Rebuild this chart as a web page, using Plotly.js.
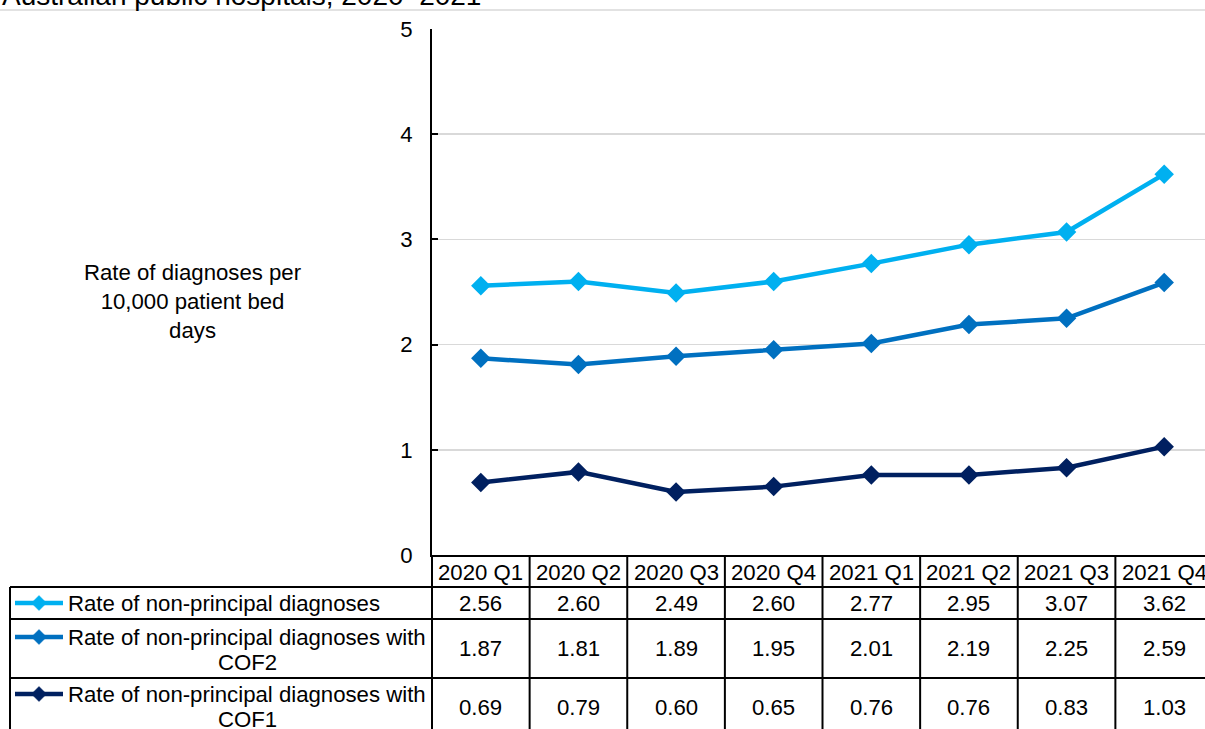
<!DOCTYPE html>
<html>
<head>
<meta charset="utf-8">
<script src="https://cdn.plot.ly/plotly-3.0.1.min.js"></script>
<style>
html,body{margin:0;padding:0;overflow:hidden;background:#fff;}
#chart{width:1223px;height:729px;}
</style>
</head>
<body>
<div id="chart"></div>
<script>
// ---- data ----
var categories = ['2020 Q1','2020 Q2','2020 Q3','2020 Q4','2021 Q1','2021 Q2','2021 Q3','2021 Q4'];
var rateAll  = [2.56, 2.60, 2.49, 2.60, 2.77, 2.95, 3.07, 3.62];
var rateCOF2 = [1.87, 1.81, 1.89, 1.95, 2.01, 2.19, 2.25, 2.59];
var rateCOF1 = [0.69, 0.79, 0.60, 0.65, 0.76, 0.76, 0.83, 1.03];
var seriesNames = ['Rate of non-principal diagnoses',
                   'Rate of non-principal diagnoses with COF2',
                   'Rate of non-principal diagnoses with COF1'];
var yTicks = [0, 1, 2, 3, 4, 5];
var titleText = 'Australian public hospitals, 2020\u20132021';
var yTitle = 'Rate of diagnoses per<br>10,000 patient bed<br>days';

// ---- layout geometry (pixels) ----
var W = 1223, H = 729;
var L = 432, PW = 781, T = 29, PH = 526;
function PX(x){ return (x - L) / PW; }
function PY(y){ return (T + PH - y) / PH; }

var colors = ['#00B0F0', '#0070C0', '#002060'];
var seriesData = [rateAll, rateCOF2, rateCOF1];
var FONT = 'Liberation Sans, Arial, sans-serif';
var FS = 22.2;

var traces = seriesData.map(function(vals, i){
  return {
    type: 'scatter', mode: 'lines+markers',
    x: categories, y: vals, name: seriesNames[i],
    line: {color: colors[i], width: 4.5},
    marker: {symbol: 'diamond', size: 15, color: colors[i]},
    showlegend: false, hoverinfo: 'x+y'
  };
});

var shapes = [];
var annotations = [];
function hline(x0, x1, y, color, w){
  shapes.push({type:'line', xref:'paper', yref:'paper', x0:PX(x0), x1:PX(x1), y0:PY(y), y1:PY(y),
               line:{color:color||'#000', width:w||2}, layer:'above'});
}
function vlineData(xv, y0, y1){
  shapes.push({type:'line', xref:'x', yref:'paper', x0:xv, x1:xv, y0:PY(y0), y1:PY(y1),
               line:{color:'#000', width:2}, layer:'above'});
}
function vlinePx(x, y0, y1){
  shapes.push({type:'line', xref:'paper', yref:'paper', x0:PX(x), x1:PX(x), y0:PY(y0), y1:PY(y1),
               line:{color:'#000', width:2}, layer:'above'});
}

// top grey rule
hline(-10, 1240, 10, '#d9d9d9', 1.5);

// table rows
hline(10, 1240, 587);
hline(10, 1240, 619);
hline(10, 1240, 678);
// axis line continuation + legend column border
vlinePx(L, 555, 740);
vlinePx(10, 587, 740);
// column separators
for (var i = 0; i < categories.length; i++) {
  vlineData(i + 0.5, 555, 740);
}

// header labels
categories.forEach(function(c, i){
  annotations.push({xref:'x', yref:'paper', x:i, y:PY(572), text:c, showarrow:false,
    xanchor:'center', yanchor:'middle', font:{family:FONT, size:FS, color:'#000'}});
});
// values
var valueRowsY = [603, 648, 707];
seriesData.forEach(function(vals, r){
  vals.forEach(function(v, i){
    annotations.push({xref:'x', yref:'paper', x:i, y:PY(valueRowsY[r]), text:v.toFixed(2), showarrow:false,
      xanchor:'center', yanchor:'middle', font:{family:FONT, size:FS, color:'#000'}});
  });
});

// legend keys in table
var keyY = [603, 637, 694];
keyY.forEach(function(ky, r){
  shapes.push({type:'line', xref:'paper', yref:'paper', x0:PX(15), x1:PX(63), y0:PY(ky), y1:PY(ky),
               line:{color:colors[r], width:4.5}, layer:'above'});
  var cx = 39, d = 7.5;
  var path = 'M ' + PX(cx - d) + ' ' + PY(ky) + ' L ' + PX(cx) + ' ' + PY(ky - d) +
             ' L ' + PX(cx + d) + ' ' + PY(ky) + ' L ' + PX(cx) + ' ' + PY(ky + d) + ' Z';
  shapes.push({type:'path', xref:'paper', yref:'paper', path:path,
               fillcolor:colors[r], line:{color:colors[r], width:0.5}, layer:'above'});
});
// legend texts
annotations.push({xref:'paper', yref:'paper', x:PX(66), y:PY(603), text:seriesNames[0], showarrow:false,
  xanchor:'left', yanchor:'middle', font:{family:FONT, size:FS, color:'#000'}});
[[1, 637, 662, 'COF2'], [2, 694, 719, 'COF1']].forEach(function(a){
  var name = seriesNames[a[0]];
  var first = name.replace(' ' + a[3], '');
  annotations.push({xref:'paper', yref:'paper', x:PX(66), y:PY(a[1]), text:first, showarrow:false,
    xanchor:'left', yanchor:'middle', font:{family:FONT, size:FS, color:'#000'}});
  annotations.push({xref:'paper', yref:'paper', x:PX(247), y:PY(a[2]), text:a[3], showarrow:false,
    xanchor:'center', yanchor:'middle', font:{family:FONT, size:FS, color:'#000'}});
});

// y axis title
annotations.push({xref:'paper', yref:'paper', x:PX(193), y:PY(301), text:yTitle, showarrow:false,
  xanchor:'center', yanchor:'middle', align:'center', font:{family:FONT, size:FS, color:'#000'}});

// clipped page title
annotations.push({xref:'paper', yref:'paper', x:PX(483), y:PY(-5), text:titleText, showarrow:false,
  xanchor:'right', yanchor:'middle', font:{family:FONT, size:28, color:'#000'}});

var layout = {
  width: W, height: H,
  margin: {l: L, r: W - L - PW, t: T, b: H - T - PH, pad: 0},
  paper_bgcolor: '#fff', plot_bgcolor: '#fff',
  showlegend: false,
  xaxis: {
    type: 'category', range: [-0.5, 7.5], showticklabels: false, ticks: '',
    showgrid: false, zeroline: false, showline: true, linecolor: '#000', linewidth: 2, fixedrange: true
  },
  yaxis: {
    range: [0, 5], tickvals: yTicks, ticktext: yTicks.map(String),
    ticks: 'inside', ticklen: 6, tickwidth: 2, tickcolor: '#000',
    showline: true, linecolor: '#000', linewidth: 2,
    showgrid: true, gridcolor: '#d9d9d9', gridwidth: 1.5, zeroline: false,
    ticklabelstandoff: 13,
    tickfont: {family: FONT, size: FS, color: '#000'}, fixedrange: true
  },
  shapes: shapes,
  annotations: annotations
};

Plotly.newPlot('chart', traces, layout, {displayModeBar: false, staticPlot: true});
</script>
</body>
</html>
